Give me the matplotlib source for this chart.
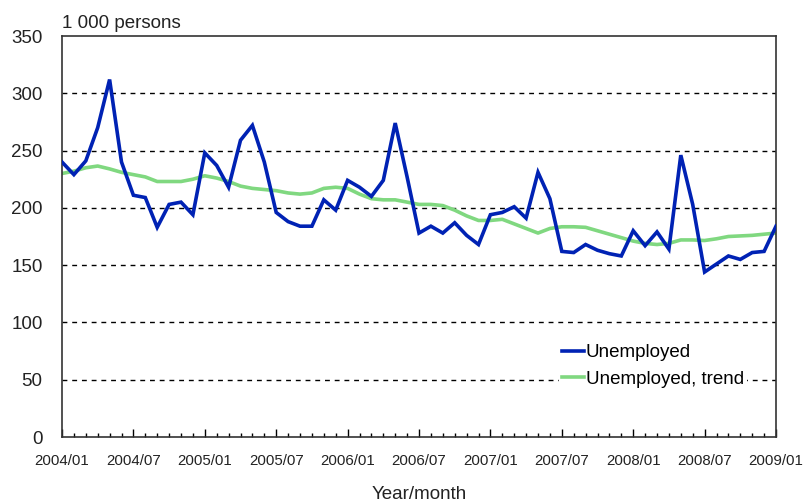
import matplotlib
matplotlib.use("Agg")
import matplotlib.pyplot as plt
from matplotlib.ticker import MultipleLocator, FixedLocator

plt.rcParams['font.family'] = ['Liberation Sans', 'DejaVu Sans']

tick_labels = ["2004/01", "2004/07", "2005/01", "2005/07", "2006/01", "2006/07",
               "2007/01", "2007/07", "2008/01", "2008/07", "2009/01"]

unemployed = [240, 229, 241, 270, 312, 240, 211, 209, 183, 203, 205, 194,
              248, 237, 218, 259, 272, 240, 196, 188, 184, 184, 207, 198,
              224, 218, 210, 224, 274, 227, 178, 184, 178, 187, 176, 168,
              194, 196, 201, 191, 231, 208, 162, 161, 168, 163, 160, 158,
              180, 167, 179, 164, 246, 203, 144, 151, 158, 155, 161, 162,
              184]

trend = [230, 232, 235, 236.5, 234, 231, 229, 227, 223, 223, 223, 225,
         228, 226, 223, 219, 217, 216, 215, 213, 212, 213, 217, 218,
         217, 212, 208, 207, 207, 205, 203, 203, 202, 198, 193, 189,
         189, 190, 186, 182, 178, 182, 183.5, 183.5, 183, 180, 177, 174,
         171, 169, 168, 169, 172, 172, 171.5, 173, 175, 175.5, 176, 177,
         178]

months = list(range(len(unemployed)))

fig = plt.figure(figsize=(8.05, 5.04), dpi=100)
ax = fig.add_axes([62/805, 67/504, 714/805, 401/504])

ax.plot(months, unemployed, color='#0022b4', lw=2.6, label='Unemployed',
        solid_joinstyle='miter', zorder=3)
ax.plot(months, trend, color='#80d880', lw=2.6, label='Unemployed, trend', zorder=2)

ax.set_xlim(0, 60)
ax.set_ylim(0, 350)
ax.yaxis.set_major_locator(MultipleLocator(50))
ax.xaxis.set_major_locator(FixedLocator(list(range(0, 61, 6))))
ax.xaxis.set_minor_locator(FixedLocator(list(range(0, 61))))
ax.set_xticklabels(tick_labels)

for yv in range(50, 350, 50):
    ax.axhline(yv, color='black', lw=1.0, ls=(0, (3.5, 3.5)), zorder=1)

for s in ax.spines.values():
    s.set_color('#333333')
    s.set_linewidth(1.2)

ax.tick_params(axis='y', length=0, pad=14, labelsize=13.5, labelcolor='#222222')
ax.tick_params(axis='x', which='major', direction='in', length=6, width=1,
               pad=12, labelsize=10.8, labelcolor='#222222')
ax.tick_params(axis='x', which='minor', direction='in', length=3, width=1)

ax.text(0.0, 1.01, "1 000 persons", transform=ax.transAxes, fontsize=13.5,
        color='#222222', ha='left', va='bottom')
ax.set_xlabel("Year/month", fontsize=13.5, color='#222222', labelpad=13)

leg = ax.legend(loc='lower right', bbox_to_anchor=(0.972, 0.092), frameon=True,
                fontsize=13.5, handlelength=1.15, handletextpad=0.1,
                borderpad=0.15, labelspacing=0.5, framealpha=1.0)
leg.get_frame().set_edgecolor('none')
leg.get_frame().set_facecolor('white')
leg.set_zorder(5)

fig.savefig("out.png", dpi=100)
